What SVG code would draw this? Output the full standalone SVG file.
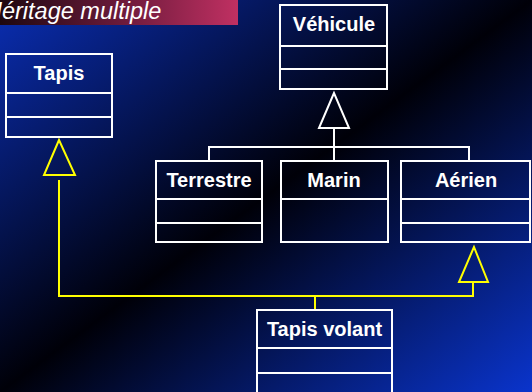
<svg xmlns="http://www.w3.org/2000/svg" width="532" height="392" viewBox="0 0 532 392">
<defs>
<linearGradient id="bg" x1="0" y1="0" x2="1" y2="1">
<stop offset="0" stop-color="#0a2eb4"/>
<stop offset="0.5" stop-color="#000008"/>
<stop offset="1" stop-color="#0a34cc"/>
</linearGradient>
<linearGradient id="ban" x1="0" y1="0" x2="1" y2="0">
<stop offset="0" stop-color="#1e0810"/>
<stop offset="0.5" stop-color="#6a1a3a"/>
<stop offset="1" stop-color="#c03062"/>
</linearGradient>
<style>
.box{fill:none;stroke:#fff;stroke-width:2}
.lbl{font-family:"Liberation Sans",Arial,sans-serif;font-weight:bold;font-size:20px;fill:#fff;text-anchor:middle}
.w{fill:none;stroke:#fff;stroke-width:2}
.y{fill:none;stroke:#ffff00;stroke-width:2}
</style>
</defs>
<rect width="532" height="392" fill="url(#bg)"/>
<rect x="0" y="0" width="238" height="25" fill="url(#ban)"/>
<text x="-15" y="19" font-family="Liberation Sans,Arial,sans-serif" font-style="italic" font-size="23.5" fill="#fff">Héritage multiple</text>
<g id="connectors">
<path class="w" d="M334,128 V147 M209,161 V147 H469 V161 M334,147 V161"/>
<polygon class="w" points="334,93 319,128 349,128"/>
<polygon class="y" points="59,140 44,175 75,175"/>
<polygon class="y" points="474,247 459,282 488,282"/>
<path class="y" d="M59,180 V296 H473 V282 M315,296 V310"/>
</g>
<g id="tapis">
<rect class="box" x="6" y="54" width="106" height="83"/>
<path class="w" d="M6,93 H112 M6,117 H112"/>
<text class="lbl" x="59" y="80">Tapis</text>
</g>
<g id="vehicule">
<rect class="box" x="280" y="5" width="107" height="84"/>
<path class="w" d="M280,46 H387 M280,69 H387"/>
<text class="lbl" x="334" y="31">Véhicule</text>
</g>
<g id="terrestre">
<rect class="box" x="156" y="161" width="106" height="81"/>
<path class="w" d="M156,199 H262 M156,223 H262"/>
<text class="lbl" x="209" y="187">Terrestre</text>
</g>
<g id="marin">
<rect class="box" x="281" y="161" width="107" height="81"/>
<path class="w" d="M281,199 H388"/>
<text class="lbl" x="334" y="187">Marin</text>
</g>
<g id="aerien">
<rect class="box" x="401" y="161" width="129" height="81"/>
<path class="w" d="M401,199 H530 M401,223 H530"/>
<text class="lbl" x="466" y="187">Aérien</text>
</g>
<g id="tapisvolant">
<rect class="box" x="257" y="310" width="135" height="90"/>
<path class="w" d="M257,348 H392 M257,373 H392"/>
<text class="lbl" x="324.5" y="336">Tapis volant</text>
</g>
</svg>
